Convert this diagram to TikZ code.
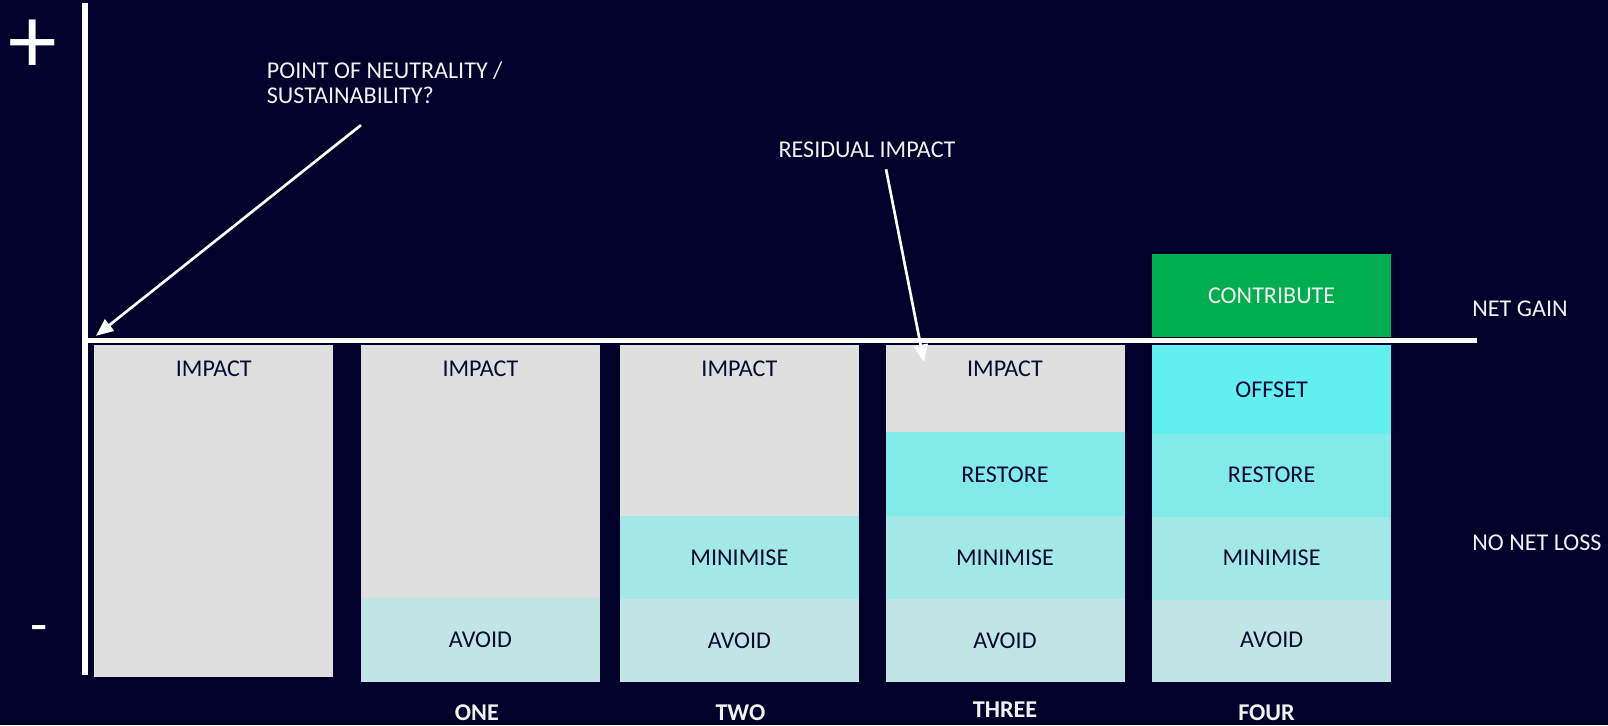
\documentclass[tikz,border=0pt]{standalone}
\usepackage{fontspec}
\setmainfont{Carlito}
\usetikzlibrary{arrows.meta}
\definecolor{bg}{HTML}{01002A}
\definecolor{ink}{HTML}{0B0A33}
\definecolor{wtext}{HTML}{F2F2F2}
\definecolor{cimpact}{HTML}{DFDFDF}
\definecolor{cavoid}{HTML}{C1E4E4}
\definecolor{cmin}{HTML}{A2E8E7}
\definecolor{crest}{HTML}{82EBEA}
\definecolor{coff}{HTML}{63EFEF}
\definecolor{ccon}{HTML}{00AE50}
\tikzset{
  segbox/.style={inner sep=0pt, outer sep=0pt, draw=none, anchor=north west, minimum width=233pt},
  intext/.style={text=ink, inner sep=0pt, font=\fontsize{23.5}{28}\selectfont},
  outtext/.style={text=wtext, inner sep=0pt, font=\fontsize{23.5}{24.4}\selectfont},
  steplabel/.style={text=wtext, inner sep=0pt, font=\fontsize{23.5}{28}\selectfont\bfseries},
  axisline/.style={draw=white, line width=6pt},
  baseline/.style={draw=white, line width=5.5pt},
  pointer/.style={draw=white, line width=2.6pt, -{Triangle[length=17pt,width=14pt]}}
}
\begin{document}
\begin{tikzpicture}[x=1pt,y=-1pt]
\fill[bg] (0,0) rectangle (1568,707);
\useasboundingbox (0,0) rectangle (1568,707);

% bar 0
\node[segbox, fill=cimpact, minimum height=324pt] (b0i) at (92,336) {};
\node[intext] (b0it) at (208.5,360) {IMPACT};

% bar 1
\node[segbox, fill=cimpact, minimum height=247pt] (b1i) at (352,336) {};
\node[segbox, fill=cavoid, minimum height=82pt] (b1a) at (352,583) {};
\node[intext] (b1it) at (468.5,360) {IMPACT};
\node[intext] (b1at) at (468.5,624) {AVOID};

% bar 2
\node[segbox, fill=cimpact, minimum height=167pt] (b2i) at (604.5,336) {};
\node[segbox, fill=cmin, minimum height=81pt] (b2m) at (604.5,503) {};
\node[segbox, fill=cavoid, minimum height=81pt] (b2a) at (604.5,584) {};
\node[intext] (b2it) at (721,360) {IMPACT};
\node[intext] (b2mt) at (721,543.5) {MINIMISE};
\node[intext] (b2at) at (721,624.5) {AVOID};

% bar 3
\node[segbox, fill=cimpact, minimum height=85pt] (b3i) at (864,336) {};
\node[segbox, fill=crest, minimum height=82pt] (b3r) at (864,421) {};
\node[segbox, fill=cmin, minimum height=81pt] (b3m) at (864,503) {};
\node[segbox, fill=cavoid, minimum height=81pt] (b3a) at (864,584) {};
\node[intext] (b3it) at (980,360) {IMPACT};
\node[intext] (b3rt) at (980,462.5) {RESTORE};
\node[intext] (b3mt) at (980,543.5) {MINIMISE};
\node[intext] (b3at) at (980,624.5) {AVOID};

% bar 4
\node[segbox, fill=ccon, minimum height=81pt] (b4c) at (1123.5,248) {};
\node[segbox, fill=coff, minimum height=87pt] (b4o) at (1123.5,336) {};
\node[segbox, fill=crest, minimum height=81pt] (b4r) at (1123.5,423) {};
\node[segbox, fill=cmin, minimum height=81pt] (b4m) at (1123.5,504) {};
\node[segbox, fill=cavoid, minimum height=80pt] (b4a) at (1123.5,585) {};
\node[outtext] (b4ct) at (1240,288.5) {CONTRIBUTE};
\node[intext] (b4ot) at (1240,380) {OFFSET};
\node[intext] (b4rt) at (1240,463) {RESTORE};
\node[intext] (b4mt) at (1240,544) {MINIMISE};
\node[intext] (b4at) at (1240,624) {AVOID};

% axes
\coordinate (ytop) at (83,2.6);
\coordinate (ybot) at (83,658);
\coordinate (xl) at (80,332);
\coordinate (xr) at (1440,332);
\draw[axisline] (ytop) -- (ybot);
\draw[baseline] (xl) -- (xr);

\node[text=white, inner sep=0pt, anchor=base, font=\fontsize{95}{95}\selectfont] (plus) at (32,71.5) {+};
\node[text=white, inner sep=0pt, font=\fontsize{55}{55}\selectfont] (minus) at (38.5,618.5) {-};

% side labels
\node[outtext, anchor=west] (netgain) at (1435.5,301) {NET GAIN};
\node[outtext, anchor=west] (nonetloss) at (1435.5,529.5) {NO NET LOSS};

% step labels
\node[steplabel] (one) at (465,695) {ONE};
\node[steplabel] (two) at (722,695) {TWO};
\node[steplabel] (three) at (980,692) {THREE};
\node[steplabel] (four) at (1235,695) {FOUR};

% annotations
\node[outtext, anchor=base west, align=left] (neutral) at (260,100.8) {POINT OF NEUTRALITY /\\SUSTAINABILITY?};
\node[outtext, anchor=west] (residual) at (759,146) {RESIDUAL IMPACT};
\coordinate (na) at (352,122);
\coordinate (nb) at (93.5,327.5);
\coordinate (ra) at (864,165);
\coordinate (rb) at (901,353);
\draw[pointer] (na) -- (nb);
\draw[pointer] (ra) -- (rb);
\end{tikzpicture}
\end{document}
